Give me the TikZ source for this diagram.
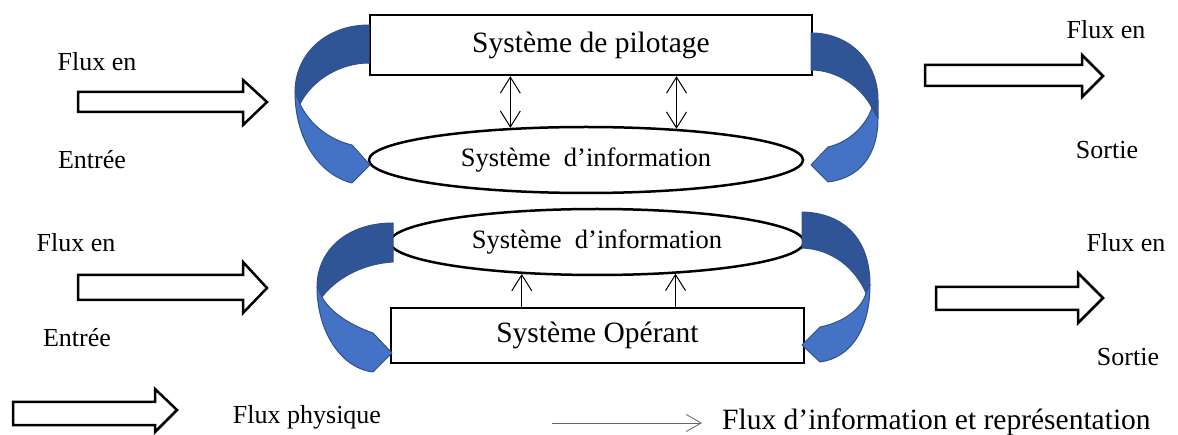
\documentclass[tikz,border=0pt]{standalone}
\usepackage{fontspec}
\setmainfont{Liberation Serif}
\usetikzlibrary{arrows.meta,shapes.geometric}
\definecolor{bandDark}{RGB}{47,85,151}
\definecolor{bandLight}{RGB}{68,114,196}
\definecolor{bandEdge}{RGB}{47,82,143}
\begin{document}
\begin{tikzpicture}[x=1pt,y=-1pt,
  bigfont/.style={font=\fontsize{29.5}{32}\selectfont},
  sysbox/.style={draw, line width=2.5pt, inner sep=0pt, bigfont},
  sysell/.style={draw, ellipse, line width=2.5pt, inner sep=0pt, fill=white,
                 font=\fontsize{26.5}{28}\selectfont},
  lbl/.style={inner sep=0pt, anchor=base, font=\fontsize{26}{28}\selectfont},
  flowarrow/.style={draw, line width=2.5pt, fill=white, line join=miter},
  banddark/.style={fill=bandDark, draw=bandEdge, line width=1pt, line join=round},
  bandlight/.style={fill=bandLight, draw=bandEdge, line width=1pt, line join=round},
  dblinfo/.style={line width=1pt, {Straight Barb[length=16pt,width=20pt]}-{Straight Barb[length=16pt,width=20pt]}},
  info/.style={line width=1pt, -{Straight Barb[length=16pt,width=20pt]}},
  legendinfo/.style={line width=0.8pt, draw=black!60, -{Straight Barb[length=15pt,width=17pt]}}
]
\useasboundingbox (0,0) rectangle (1178,435);

% upper block: steering system and its information system
\node[sysbox, minimum width=442pt, minimum height=60pt] (pil) at (591,45) {Système de pilotage};
\node[sysell, minimum width=434pt, minimum height=66pt] (ie1) at (586,160) {Système~~d’information};

% lower block: information system and operating system
\node[sysell, minimum width=414pt, minimum height=66pt] (ie2) at (597,242) {Système~~d’information};
\node[sysbox, minimum width=413pt, minimum height=55pt] (op) at (597.5,335.5) {Système Opérant};

% exchanges between the systems
\draw[dblinfo] (pil.south -| ie1.157.9) -- (ie1.157.9);
\draw[dblinfo] (pil.south -| ie1.19.1) -- (ie1.19.1);
\draw[info] (op.north -| ie2.203.2) -- (ie2.203.2);
\draw[info] (op.north -| ie2.338) -- (ie2.338);

% curved bands, upper left
\draw[banddark] (369,25) .. controls (325,25) and (295,55) .. (295,92) -- (300,104)
  .. controls (312,80) and (340,63) .. (369,63) -- cycle;
\draw[bandlight] (295,92) .. controls (295,140) and (320,175) .. (352,183) -- (370,165) -- (352,145)
  .. controls (330,140) and (310,125) .. (300,104) -- cycle;
% upper right
\draw[banddark] (811,33) .. controls (850,33) and (878,62) .. (878,100) -- (878,118) -- (872,108)
  .. controls (862,88) and (838,70) .. (811,70) -- cycle;
\draw[bandlight] (878,118) .. controls (878,155) and (860,178) .. (828,182) -- (811,165) -- (828,147)
  .. controls (850,142) and (866,125) .. (872,108) -- cycle;
% lower left
\draw[banddark] (393,223) .. controls (345,223) and (317,252) .. (317,287) -- (322,297)
  .. controls (335,280) and (360,264) .. (393,262) -- cycle;
\draw[bandlight] (317,287) .. controls (317,330) and (340,368) .. (373,372) -- (392,353) -- (373,333)
  .. controls (350,325) and (330,312) .. (322,297) -- cycle;
% lower right
\draw[banddark] (802,212) .. controls (845,213) and (870,240) .. (870,285) -- (866,293)
  .. controls (855,268) and (832,249) .. (802,248) -- cycle;
\draw[bandlight] (870,285) .. controls (870,330) and (850,358) .. (820,362) -- (802,345) -- (820,327)
  .. controls (845,322) and (862,308) .. (866,293) -- cycle;

% physical flows in and out
\draw[flowarrow] (78,92) -- (243,92) -- (243,80) -- (267,102) -- (243,125) -- (243,112) -- (78,112) -- cycle;
\draw[flowarrow] (78,275) -- (243,275) -- (243,262) -- (267,288) -- (243,313) -- (243,300) -- (78,300) -- cycle;
\draw[flowarrow] (925,65) -- (1082,65) -- (1082,55) -- (1103,76) -- (1082,97) -- (1082,86) -- (925,86) -- cycle;
\draw[flowarrow] (936,287) -- (1078,287) -- (1078,273) -- (1103,298) -- (1078,323) -- (1078,310) -- (936,310) -- cycle;

% labels
\node[lbl] (in1a) at (97,71) {Flux en};
\node[lbl] (in1b) at (92,169) {Entrée};
\node[lbl] (in2a) at (76,252) {Flux en};
\node[lbl] (in2b) at (77,347) {Entrée};
\node[lbl] (out1a) at (1106,39) {Flux en};
\node[lbl] (out1b) at (1107,159) {Sortie};
\node[lbl] (out2a) at (1126,252) {Flux en};
\node[lbl] (out2b) at (1128,366) {Sortie};

% legend
\draw[flowarrow] (13,402) -- (155,402) -- (155,389) -- (177,410) -- (155,432) -- (155,425) -- (13,425) -- cycle;
\node[lbl] (lgphys) at (307,424) {Flux physique};
\coordinate (lgA) at (552,423);
\coordinate (lgB) at (702,423);
\draw[legendinfo] (lgA) -- (lgB);
\node[inner sep=0pt, anchor=base west, bigfont] (lginfo) at (722,429) {Flux d’information et représentation};
\end{tikzpicture}
\end{document}
